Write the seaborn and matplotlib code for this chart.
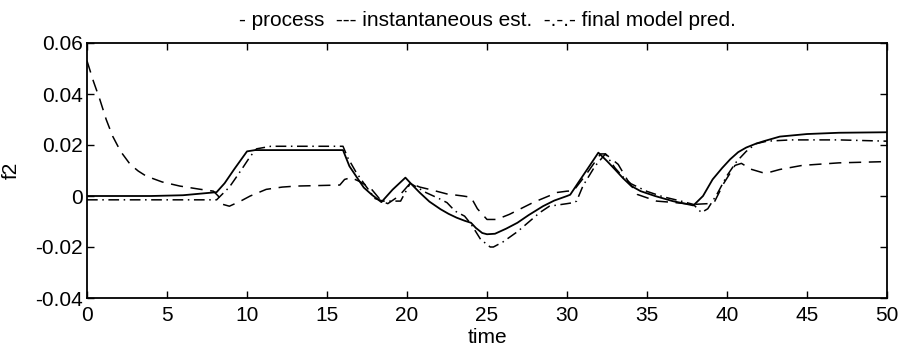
import matplotlib
matplotlib.use("Agg")
import matplotlib.pyplot as plt
import seaborn as sns
import pandas as pd

# ---- data ----
t_process = [0, 2, 4, 6, 8.1, 8.6, 9.2, 10.0, 10.5, 12, 14, 16.0, 16.4, 16.9, 17.3, 17.8,
             18.4, 19.1, 19.9, 20.3, 20.8, 21.4, 22.1, 22.6, 23.1, 23.6, 24.0, 24.3, 24.7,
             25.0, 25.5, 26.2, 26.9, 27.6, 28.5, 29.2, 30.0, 30.2, 30.7, 31.3, 31.96, 32.5,
             33.0, 33.5, 34.0, 34.6, 35.5, 36.6, 37.9, 38.5, 39.1, 39.7, 40.2, 40.7, 41.2,
             41.8, 42.3, 43.3, 45, 47, 50]
y_process = [0, 0, 0, 0.0003, 0.0015, 0.005, 0.0105, 0.0175, 0.018, 0.018, 0.018, 0.018,
             0.0117, 0.007, 0.0033, 0.0005, -0.0024, 0.0025, 0.0072, 0.0045, 0.0013, -0.0022,
             -0.0052, -0.007, -0.0085, -0.0097, -0.0105, -0.0125, -0.0145, -0.015, -0.0148,
             -0.0128, -0.0105, -0.0075, -0.004, -0.0018, 0.0, 0.0005, 0.0052, 0.0108, 0.017,
             0.0137, 0.0104, 0.007, 0.004, 0.0019, 0.0, -0.002, -0.0037, 0.0, 0.0065, 0.011,
             0.0144, 0.0172, 0.019, 0.0205, 0.0215, 0.0233, 0.0243, 0.0248, 0.025]

t_inst = [0, 0.4, 0.8, 1.2, 1.6, 2.1, 2.7, 3.2, 3.7, 4.7, 5.8, 7.0, 7.9, 8.2, 8.5, 8.9, 9.6,
          10.2, 11.2, 12.2, 13.1, 14.5, 15.8, 16.1, 16.5, 17.0, 17.7, 18.4, 18.8, 19.5, 20.2,
          20.8, 21.4, 22.5, 23.5, 24.0, 24.4, 25.0, 25.6, 26.4, 27.9, 29.4, 30.0, 30.4, 31.2,
          32.1, 32.4, 33.2, 33.8, 34.4, 35.6, 36.6, 37.9, 38.8, 39.2, 39.8, 40.5, 40.9, 41.5,
          42.2, 42.6, 43.3, 44.7, 47, 50]
y_inst = [0.053, 0.045, 0.0379, 0.030, 0.0235, 0.0175, 0.0124, 0.0098, 0.0078, 0.0055, 0.0039,
          0.0027, 0.0019, 0.0, -0.0033, -0.004, -0.002, 0.0, 0.0026, 0.0035, 0.0039, 0.0041,
          0.0043, 0.0065, 0.0072, 0.0058, 0.0033, -0.002, -0.003, 0.0, 0.005, 0.0035, 0.0026,
          0.0008, 0.0, -0.0005, -0.005, -0.0092, -0.0092, -0.0072, -0.0025, 0.0014, 0.0019,
          0.002, 0.0085, 0.0165, 0.0165, 0.0124, 0.006, 0.0006, -0.002, -0.0025, -0.0033,
          -0.003, -0.0025, 0.005, 0.012, 0.0128, 0.0105, 0.0092, 0.0092, 0.0104, 0.012,
          0.013, 0.0135]

t_final = [0, 4, 8.1, 8.5, 8.9, 9.4, 9.8, 10.2, 10.6, 11.5, 16.0, 16.3, 16.8, 17.3, 18.0,
           18.5, 19.6, 20.2, 20.6, 21.2, 22.0, 22.5, 23.0, 23.6, 24.0, 24.6, 25.2, 25.4, 26.0,
           26.9, 28.3, 28.9, 30.0, 30.4, 30.6, 31.0, 31.75, 32.4, 33.0, 33.5, 34.0, 35.0,
           36.0, 37.0, 37.9, 38.4, 38.8, 39.4, 40.0, 40.6, 41.2, 41.8, 42.5, 44, 47, 50]
y_final = [-0.0015, -0.0015, -0.0015, 0.001, 0.0035, 0.008, 0.0117, 0.0155, 0.0185, 0.0195,
           0.0195, 0.015, 0.0095, 0.005, -0.001, -0.002, -0.002, 0.005, 0.0035, 0.0013,
           -0.001, -0.0026, -0.0059, -0.0079, -0.011, -0.017, -0.020, -0.020, -0.018, -0.014,
           -0.0065, -0.004, -0.003, -0.0026, -0.002, 0.004, 0.0117, 0.0165, 0.011, 0.0075,
           0.0048, 0.0018, -0.0003, -0.0018, -0.0033, -0.0065, -0.005, 0.001, 0.008, 0.0135,
           0.0175, 0.0205, 0.0215, 0.022, 0.022, 0.0215]

x_ticks = [0, 5, 10, 15, 20, 25, 30, 35, 40, 45, 50]
y_ticks = [-0.04, -0.02, 0, 0.02, 0.04, 0.06]
y_tick_labels = ["-0.04", "-0.02", "0", "0.02", "0.04", "0.06"]
title_text = "- process  --- instantaneous est.  -.-.- final model pred."

# ---- plotting ----
sns.set_theme(style="white")
plt.rcParams['font.family'] = ['Liberation Sans', 'DejaVu Sans']
fs = 15

fig = plt.figure(figsize=(9.02, 3.49), dpi=100)
ax = fig.add_axes([87/902, 1 - 298/349, 800/902, 255/349])

df_p = pd.DataFrame({"time": t_process, "f2": y_process})
df_i = pd.DataFrame({"time": t_inst, "f2": y_inst})
df_f = pd.DataFrame({"time": t_final, "f2": y_final})

sns.lineplot(data=df_p, x="time", y="f2", ax=ax, color="black", linewidth=1.3,
             linestyle="-", errorbar=None, sort=False)
sns.lineplot(data=df_i, x="time", y="f2", ax=ax, color="black", linewidth=1.1,
             linestyle=(0, (8, 5)), errorbar=None, sort=False)
sns.lineplot(data=df_f, x="time", y="f2", ax=ax, color="black", linewidth=1.1,
             linestyle=(0, (7, 3, 1, 3)), errorbar=None, sort=False)

ax.set_xlim(0, 50)
ax.set_ylim(-0.04, 0.06)
ax.set_xticks(x_ticks)
ax.set_xticklabels([str(v) for v in x_ticks], fontsize=fs)
ax.set_yticks(y_ticks)
ax.set_yticklabels(y_tick_labels, fontsize=fs)
ax.tick_params(axis="x", pad=6)
ax.tick_params(axis="y", pad=3)
ax.tick_params(direction="in", length=5, width=1, top=True, right=True,
               bottom=True, left=True, colors="black")
for s in ax.spines.values():
    s.set_color("black")
    s.set_linewidth(1.3)
    s.set_visible(True)

ax.set_xlabel("time", fontsize=fs, labelpad=2, color="black")
ax.set_ylabel("f2", fontsize=fs, labelpad=10, color="black")
ax.set_title(title_text, fontsize=fs, pad=12, color="black")
ax.grid(False)

fig.savefig("out.png", dpi=100)
